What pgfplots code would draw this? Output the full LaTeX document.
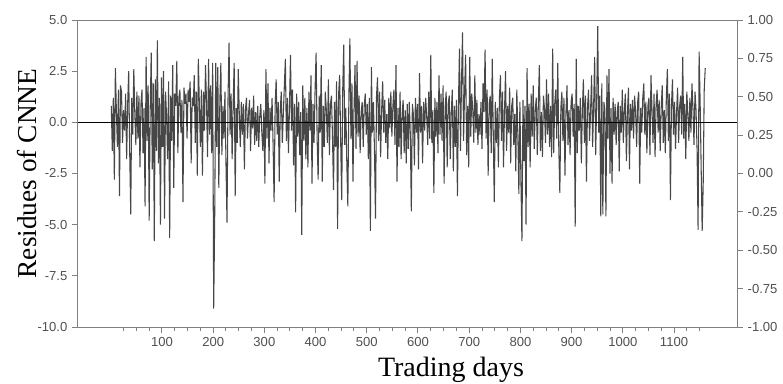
\documentclass[border=0pt]{standalone}
\usepackage{fontspec}
\setmainfont{Liberation Serif}
\setsansfont{Liberation Sans}
\usepackage{pgfplots}
\pgfplotsset{compat=1.18}
\definecolor{axgray}{RGB}{128,128,128}
\definecolor{lblgray}{RGB}{80,80,80}
\begin{document}
\begin{tikzpicture}
\pgfplotsset{
 common/.style={
  scale only axis, width=494.25pt, height=230.25pt,
  xmin=-64, xmax=1223,
  axis line style={axgray, line width=0.75pt},
  tick style={axgray, line width=0.75pt},
  tick align=outside,
  major tick length=4.5pt,
  minor tick length=3pt,
  tick label style={font=\sffamily\fontsize{9.8}{11}\selectfont, text=lblgray},
  /pgf/number format/assume math mode=true,
  /pgf/number format/1000 sep={},
 }
}
\begin{axis}[common, at={(0,0)}, anchor=south west,
  ymin=-10, ymax=5,
  ytick={-10,-7.5,-5,-2.5,0,2.5,5},
  yticklabels={-10.0,-7.5,-5.0,-2.5,0.0,2.5,5.0},
  xtick={100,200,300,400,500,600,700,800,900,1000,1100},
  xticklabels={100,200,300,400,500,600,700,800,900,1000,1100},
  minor xtick={25,50,75,125,150,175,225,250,275,325,350,375,425,450,475,525,550,575,625,650,675,725,750,775,825,850,875,925,950,975,1025,1050,1075,1125,1150},
  xtick pos=left, ytick pos=left,
  xlabel={Trading days},
  ylabel={Residues of CNNE},
  xlabel style={at={(axis description cs:0.566,-0.140)}, anchor=center, font=\fontsize{21}{25}\selectfont},
  ylabel style={at={(axis description cs:-0.077,0.5)}, anchor=center, font=\fontsize{20.5}{24}\selectfont},
]
\addplot[black!72, line width=0.8pt, line join=miter, miter limit=2] coordinates {
(1,0.8)(3,-1.4)(5,1.2)(7,-2.8)(9,2.65)(11,0.5)(13,-1.2)(15,1.6)(17,-3.6)(19,1.8)
(21,1.5)(23,-1.0)(25,0.6)(27,-0.4)(29,1.4)(31,-1.8)(33,0.9)(35,2.5)(37,-1.5)(39,-4.5)
(41,1.2)(43,-0.6)(45,2.6)(47,0.4)(49,-1.1)(51,1.5)(53,-0.8)(55,1.3)(57,-2.2)(59,0.9)
(61,1.6)(63,-1.5)(65,0.7)(67,-4.1)(69,3.2)(71,-0.9)(73,1.8)(75,-4.8)(77,0.6)(79,3.4)
(81,-2.3)(83,1.9)(85,-5.8)(87,2.1)(89,-1.4)(91,4.0)(93,-2.0)(95,1.2)(97,-5.0)(99,2.2)
(101,-1.2)(103,2.5)(105,-4.7)(107,1.5)(109,0.3)(111,-1.8)(113,2.0)(115,-5.65)(117,1.3)(119,-0.9)
(121,2.8)(123,-3.2)(125,1.4)(127,0.8)(129,3.0)(131,-1.5)(133,1.2)(135,1.6)(137,-0.5)(139,1.1)
(141,-3.9)(143,1.7)(145,0.9)(147,1.4)(149,-0.8)(151,1.6)(153,1.0)(155,2.0)(157,-2.0)(159,1.2)
(161,0.8)(163,2.3)(165,-1.0)(167,1.5)(169,-2.6)(171,3.1)(173,0.9)(175,-1.2)(177,1.6)(179,-2.6)
(181,1.5)(183,-0.4)(185,2.8)(187,1.0)(189,-1.7)(191,3.1)(193,-0.6)(195,1.8)(197,-1.5)(199,2.9)
(201,-9.1)(203,-4.6)(205,2.9)(207,-1.2)(209,2.7)(211,-3.2)(213,1.0)(215,2.9)(217,-1.6)(219,0.8)
(221,-0.8)(223,1.5)(225,-2.0)(227,-4.9)(229,1.2)(231,3.9)(233,-0.6)(235,1.4)(237,-1.8)(239,0.9)
(241,2.9)(243,-3.6)(245,0.7)(247,-1.0)(249,2.6)(251,0.4)(253,-1.2)(255,1.0)(257,-0.6)(259,0.9)
(261,-2.3)(263,0.6)(265,1.2)(267,-0.8)(269,0.4)(271,1.1)(273,-1.4)(275,0.7)(277,-0.3)(279,1.3)
(281,-1.1)(283,0.5)(285,-0.9)(287,0.8)(289,-1.2)(291,0.3)(293,0.9)(295,-0.5)(297,-1.4)(299,0.6)
(301,-3.0)(303,2.6)(305,-0.8)(307,1.9)(309,-2.0)(311,0.7)(313,-0.4)(315,1.2)(317,-1.1)(319,-3.9)
(321,0.8)(323,2.1)(325,-0.6)(327,1.0)(329,-2.9)(331,0.6)(333,1.5)(335,-1.0)(337,0.4)(339,1.8)
(341,3.1)(343,-0.9)(345,1.2)(347,-1.5)(349,0.7)(351,3.3)(353,-0.4)(355,1.6)(357,-2.1)(359,0.9)
(361,-4.4)(363,1.4)(365,-0.7)(367,1.0)(369,-1.6)(371,0.5)(373,-5.5)(375,1.8)(377,-0.9)(379,1.2)
(381,-1.8)(383,0.7)(385,-2.2)(387,1.5)(389,-0.4)(391,2.3)(393,-3.0)(395,0.9)(397,-1.0)(399,1.6)
(401,3.4)(403,-0.8)(405,-2.8)(407,1.3)(409,-0.5)(411,2.8)(413,-2.9)(415,0.8)(417,-1.2)(419,1.5)
(421,0.6)(423,-1.0)(425,2.1)(427,-1.6)(429,0.9)(431,1.3)(433,-0.7)(435,-3.3)(437,1.0)(439,-1.2)
(441,2.0)(443,-5.2)(445,1.4)(447,2.3)(449,-0.9)(451,-3.8)(453,1.6)(455,3.8)(457,-1.1)(459,0.7)
(461,-2.0)(463,-4.1)(465,1.2)(467,4.1)(469,-0.8)(471,1.9)(473,-2.9)(475,0.6)(477,2.8)(479,-1.3)
(481,3.0)(483,-0.7)(485,1.3)(487,-1.5)(489,0.5)(491,1.0)(493,-1.2)(495,0.8)(497,1.4)(499,-0.6)
(501,0.9)(503,-1.8)(505,1.2)(507,-5.3)(509,2.7)(511,-0.5)(513,1.0)(515,-1.4)(517,-4.7)(519,1.3)
(521,2.2)(523,-0.9)(525,1.5)(527,-1.7)(529,0.6)(531,2.0)(533,-0.5)(535,1.1)(537,-1.0)(539,0.4)
(541,-1.8)(543,1.2)(545,-0.3)(547,1.5)(549,-0.7)(551,0.8)(553,1.6)(555,-1.1)(557,2.8)(559,-2.9)
(561,0.7)(563,-1.2)(565,1.5)(567,-1.8)(569,0.4)(571,1.1)(573,-1.5)(575,0.6)(577,-2.0)(579,0.9)
(581,-1.3)(583,1.0)(585,-0.6)(587,-4.35)(589,0.9)(591,0.4)(593,-2.1)(595,1.2)(597,-0.5)(599,0.9)
(601,-2.3)(603,2.4)(605,-0.5)(607,0.8)(609,-2.0)(611,1.0)(613,-0.4)(615,1.2)(617,0.3)(619,-1.1)
(621,1.5)(623,-0.8)(625,3.3)(627,-1.0)(629,0.6)(631,-3.45)(633,1.2)(635,-0.7)(637,1.0)(639,-1.5)
(641,2.3)(643,-0.6)(645,1.4)(647,-0.9)(649,1.8)(651,-3.0)(653,0.7)(655,1.5)(657,-2.2)(659,0.9)
(661,1.3)(663,-1.8)(665,0.5)(667,1.6)(669,-2.4)(671,0.8)(673,-1.2)(675,1.1)(677,-3.6)(679,0.9)
(681,3.6)(683,-1.4)(685,2.0)(687,4.4)(689,-0.9)(691,1.5)(693,3.3)(695,-1.6)(697,0.8)(699,-2.2)
(701,3.2)(703,-0.7)(705,1.4)(707,0.6)(709,-1.0)(711,2.3)(713,-0.5)(715,1.1)(717,-1.1)(719,0.4)
(721,-0.6)(723,1.0)(725,-1.3)(727,1.9)(729,0.5)(731,3.55)(733,-0.8)(735,1.6)(737,-2.6)(739,0.9)
(741,1.3)(743,-1.5)(745,3.1)(747,-0.6)(749,-3.9)(751,1.0)(753,-1.0)(755,0.7)(757,-2.2)(759,1.2)
(761,2.3)(763,-0.9)(765,1.5)(767,-2.2)(769,0.6)(771,2.5)(773,-1.4)(775,0.8)(777,-0.5)(779,1.7)
(781,-2.0)(783,0.8)(785,1.2)(787,-1.1)(789,0.4)(791,-2.4)(793,1.6)(795,-0.6)(797,-3.5)(799,1.0)
(801,-2.8)(803,-5.8)(805,1.1)(807,-1.9)(809,0.8)(811,-5.0)(813,2.65)(815,-1.2)(817,0.9)(819,-2.2)
(821,1.4)(823,-0.7)(825,1.8)(827,-1.3)(829,0.6)(831,1.2)(833,-1.6)(835,0.9)(837,2.8)(839,-1.4)
(841,0.5)(843,-1.7)(845,1.3)(847,0.7)(849,-1.0)(851,2.1)(853,-0.6)(855,1.4)(857,-1.2)(859,0.8)
(861,-1.7)(863,3.6)(865,-1.5)(867,0.9)(869,1.6)(871,-0.8)(873,2.9)(875,-1.3)(877,-3.45)(879,0.7)
(881,1.5)(883,-0.9)(885,1.2)(887,-2.6)(889,0.5)(891,1.8)(893,-1.1)(895,0.6)(897,-1.6)(899,1.0)
(901,1.4)(903,-0.7)(905,0.9)(907,-5.1)(909,3.1)(911,-1.5)(913,0.8)(915,-0.4)(917,1.2)(919,-2.0)
(921,0.6)(923,2.1)(925,-1.0)(927,1.3)(929,-2.9)(931,0.7)(933,1.6)(935,-0.9)(937,0.5)(939,2.3)
(941,-1.2)(943,0.8)(945,3.2)(947,-1.6)(949,1.1)(951,4.7)(953,-0.5)(955,1.3)(957,-4.6)(959,1.9)
(961,-4.5)(963,1.0)(965,0.6)(967,-4.6)(969,2.3)(971,-0.8)(973,2.6)(975,-2.5)(977,0.7)(979,-3.0)
(981,1.2)(983,-0.6)(985,0.9)(987,-1.1)(989,0.5)(991,1.0)(993,-2.4)(995,0.8)(997,-0.5)(999,1.6)
(1001,-1.0)(1003,0.6)(1005,1.4)(1007,-1.9)(1009,0.4)(1011,1.7)(1013,-2.3)(1015,0.9)(1017,-0.4)(1019,1.1)
(1021,-0.8)(1023,1.3)(1025,0.5)(1027,-1.2)(1029,1.0)(1031,1.5)(1033,-3.0)(1035,0.7)(1037,-0.5)(1039,1.2)
(1041,1.9)(1043,-0.6)(1045,1.0)(1047,-1.5)(1049,0.8)(1051,1.2)(1053,-1.6)(1055,2.3)(1057,0.6)(1059,-1.0)
(1061,1.4)(1063,-1.7)(1065,0.9)(1067,1.6)(1069,-0.5)(1071,1.1)(1073,-1.4)(1075,0.7)(1077,1.8)(1079,-1.0)
(1081,0.6)(1083,-1.5)(1085,1.2)(1087,2.6)(1089,-0.9)(1091,1.4)(1093,-3.8)(1095,0.8)(1097,2.1)(1099,-0.6)
(1101,1.0)(1103,-1.3)(1105,0.5)(1107,1.7)(1109,-1.0)(1111,0.8)(1113,1.3)(1115,-0.6)(1117,3.2)(1119,-0.8)
(1121,0.9)(1123,-1.8)(1125,1.5)(1127,0.4)(1129,-0.9)(1131,1.2)(1133,-0.5)(1135,1.9)(1137,0.7)(1139,-1.1)
(1141,1.5)(1143,0.6)(1145,-1.3)(1147,-5.25)(1149,3.45)(1151,1.0)(1153,-2.2)(1155,-5.3)(1157,-3.0)(1159,1.6)
(1161,2.65)
};
\addplot[black, line width=0.75pt] coordinates {(-64,0) (1223,0)};
\end{axis}
\begin{axis}[common, at={(0,0)}, anchor=south west,
  ymin=-1, ymax=1,
  ytick={-1,-0.75,-0.5,-0.25,0,0.25,0.5,0.75,1},
  yticklabels={-1.00,-0.75,-0.50,-0.25,0.00,0.25,0.50,0.75,1.00},
  hide x axis, axis y line*=right, ytick pos=right,
]
\end{axis}
\pgfresetboundingbox
\path[use as bounding box] (-58.5pt,-42pt) rectangle (528.75pt,245.25pt);
\end{tikzpicture}
\end{document}
